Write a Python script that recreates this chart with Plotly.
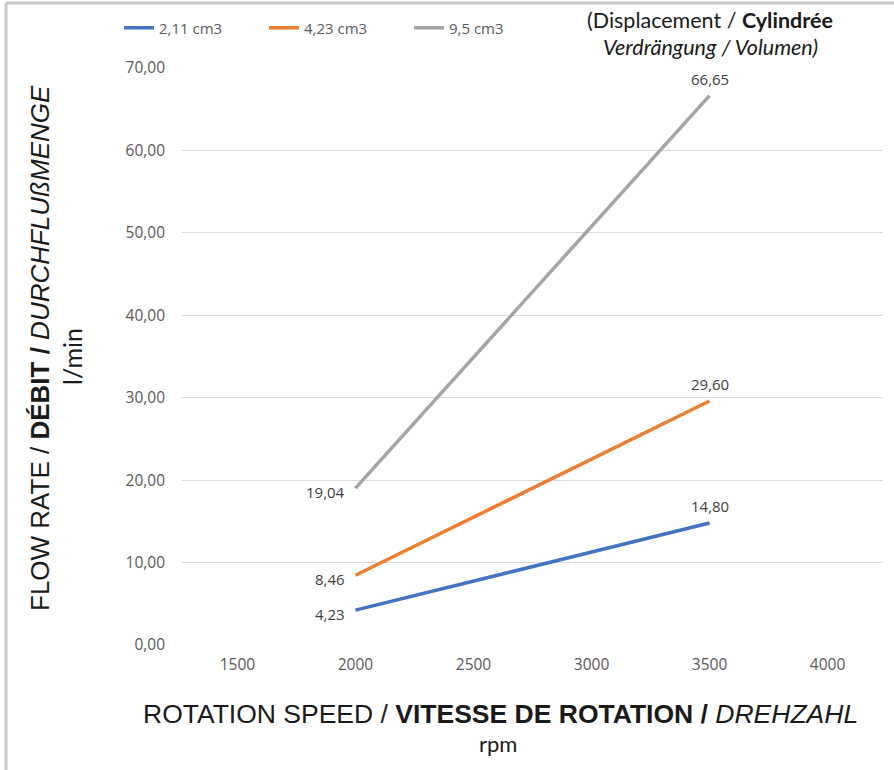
import plotly.graph_objects as go

# Flow rate vs rotation speed for three pump displacements
series_names = ["2,11 cm3", "4,23 cm3", "9,5 cm3"]
series_colors = ["#4472C4", "#ED7D31", "#A5A5A5"]
rpm = [2000, 3500]
flow_211 = [4.23, 14.80]
flow_423 = [8.46, 29.60]
flow_95 = [19.04, 66.65]
x_ticks = [1500, 2000, 2500, 3000, 3500, 4000]
y_ticks = [0, 10, 20, 30, 40, 50, 60, 70]

W, H = 894, 770
L, R, T, B = 182, 11, 68, 125
PW, PH = W - L - R, H - T - B


def px_x(px):
    return (px - L) / PW


def px_y(py):
    return (H - B - py) / PH


def fmt(v):
    return f"{v:.2f}".replace(".", ",")


label_font = dict(family="Open Sans", size=15, color="#404040")

fig = go.Figure()
annotations = []
for name, color, ys in zip(series_names, series_colors, [flow_211, flow_423, flow_95]):
    fig.add_trace(go.Scatter(
        x=rpm, y=ys, name=name, mode="lines",
        line=dict(color=color, width=3.5),
    ))
    # value labels: left of the first point, above the last one
    annotations.append(dict(x=rpm[0], y=ys[0], xref="x", yref="y", text=fmt(ys[0]),
                            showarrow=False, xanchor="right", yanchor="middle",
                            xshift=-8, yshift=-4, font=label_font))
    annotations.append(dict(x=rpm[1], y=ys[1], xref="x", yref="y", text=fmt(ys[1]),
                            showarrow=False, xanchor="center", yanchor="bottom",
                            yshift=5, font=label_font))

title_font = "Liberation Sans Narrow, Arial Narrow, sans-serif"

annotations += [
    dict(text="FLOW RATE / <b>DÉBIT /</b> <i>DURCHFLUßMENGE</i>",
         xref="paper", yref="paper", x=px_x(40), y=px_y(348),
         textangle=-90, showarrow=False, xanchor="center", yanchor="middle",
         font=dict(family=title_font, size=26, color="#1a1a1a")),
    dict(text="l/min",
         xref="paper", yref="paper", x=px_x(72), y=px_y(357),
         textangle=-90, showarrow=False, xanchor="center", yanchor="middle",
         font=dict(family="Lato", size=25, color="#1a1a1a")),
    dict(text="ROTATION SPEED / <b>VITESSE DE ROTATION /</b> <i>DREHZAHL</i>",
         xref="paper", yref="paper", x=px_x(500), y=px_y(714),
         showarrow=False, xanchor="center", yanchor="middle",
         font=dict(family=title_font, size=26.5, color="#1a1a1a")),
    dict(text="rpm",
         xref="paper", yref="paper", x=px_x(498), y=px_y(744),
         showarrow=False, xanchor="center", yanchor="middle",
         font=dict(family="Lato", size=22, color="#1a1a1a")),
    dict(text="(Displacement / <b>Cylindrée</b>",
         xref="paper", yref="paper", x=px_x(710), y=px_y(20),
         showarrow=False, xanchor="center", yanchor="middle",
         font=dict(family="Lato", size=21.5, color="#1a1a1a")),
    dict(text="<i>Verdrängung / Volumen)</i>",
         xref="paper", yref="paper", x=px_x(710), y=px_y(47),
         showarrow=False, xanchor="center", yanchor="middle",
         font=dict(family="Lato", size=21.5, color="#1a1a1a")),
]

border = dict(color="#c8c8c8", width=3)
shapes = [
    dict(type="line", xref="paper", yref="paper",
         x0=px_x(6), x1=px_x(6), y0=px_y(3), y1=px_y(H + 5), line=border),
    dict(type="line", xref="paper", yref="paper",
         x0=px_x(6), x1=px_x(W + 5), y0=px_y(3), y1=px_y(3), line=border),
]

fig.update_layout(
    width=W, height=H,
    margin=dict(l=L, r=R, t=T, b=B),
    paper_bgcolor="white", plot_bgcolor="white",
    separators=",.",
    showlegend=True,
    legend=dict(orientation="h", x=px_x(119), y=px_y(28),
                xanchor="left", yanchor="middle",
                entrywidth=100, entrywidthmode="pixels",
                font=dict(family="Open Sans", size=15, color="#595959"),
                bgcolor="rgba(0,0,0,0)"),
    annotations=annotations,
    shapes=shapes,
    xaxis=dict(range=[1265, 4235], tickvals=x_ticks, tickformat="d",
               showgrid=False, zeroline=False, showline=False, ticks="",
               ticklabelstandoff=8,
               tickfont=dict(family="Open Sans", size=15.5, color="#595959")),
    yaxis=dict(range=[0, 70], tickvals=y_ticks, tickformat=".2f",
               showgrid=True, gridcolor="#d9d9d9", gridwidth=1,
               zeroline=False, showline=False, ticks="",
               ticklabelstandoff=16,
               tickfont=dict(family="Open Sans", size=15.5, color="#595959")),
)

fig.write_html("out.html")
